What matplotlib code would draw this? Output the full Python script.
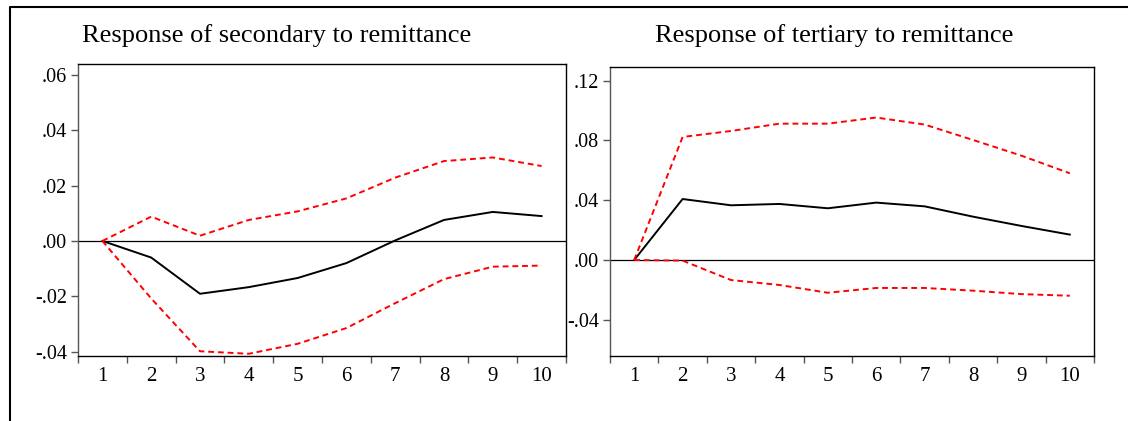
import numpy as np
from matplotlib import pyplot as plt
from matplotlib.lines import Line2D

periods = np.arange(1, 11)

sec_resp = [0.0, -0.0060, -0.0191, -0.0167, -0.0134, -0.0080, 0.0002, 0.0076, 0.0105, 0.0090]
sec_upper = [0.0, 0.0088, 0.0019, 0.0076, 0.0107, 0.0154, 0.0229, 0.0289, 0.0302, 0.0271]
sec_lower = [0.0, -0.0208, -0.0399, -0.0408, -0.0372, -0.0315, -0.0225, -0.0138, -0.0093, -0.0089]

ter_resp = [0.0, 0.0408, 0.0366, 0.0375, 0.0346, 0.0384, 0.0359, 0.0290, 0.0228, 0.0170]
ter_upper = [0.0, 0.0823, 0.0863, 0.0912, 0.0912, 0.0953, 0.0906, 0.0803, 0.0698, 0.0580]
ter_lower = [0.0, -0.0004, -0.0134, -0.0167, -0.0219, -0.0187, -0.0187, -0.0205, -0.0228, -0.0239]

sec_ticks = [-0.04, -0.02, 0.00, 0.02, 0.04, 0.06]
sec_ticklabels = ['-.04', '-.02', '.00', '.02', '.04', '.06']
ter_ticks = [-0.04, 0.00, 0.04, 0.08, 0.12]
ter_ticklabels = ['-.04', '.00', '.04', '.08', '.12']

plt.rcParams['font.family'] = ['Liberation Serif', 'DejaVu Serif']


def draw_panel(ax, resp, upper, lower, ticks, ticklabels, ylim):
    ax.axhline(0, color='black', lw=0.9)
    ax.plot(periods, resp, color='black', lw=1.4)
    ax.plot(periods, upper, color='red', lw=1.4, linestyle=(0, (3, 2)))
    ax.plot(periods, lower, color='red', lw=1.4, linestyle=(0, (3, 2)))
    ax.set_xlim(0.5, 10.5)
    ax.set_ylim(*ylim)
    ax.set_yticks(ticks)
    ax.set_yticklabels(ticklabels)
    # tick marks sit between periods, labels at the periods
    ax.set_xticks(np.arange(0.5, 11, 1))
    ax.set_xticklabels([])
    ax.set_xticks(periods, minor=True)
    ax.set_xticklabels([str(p) for p in periods], minor=True)
    ax.tick_params(axis='x', which='major', length=5, width=1, color='#555555', direction='out')
    ax.tick_params(axis='x', which='minor', length=0, labelsize=15, pad=8)
    ax.tick_params(axis='y', length=5, width=1, color='#555555', labelsize=14.5, pad=3)
    for side in ['left', 'bottom', 'top', 'right']:
        ax.spines[side].set_linewidth(1.0)
    ax.spines['left'].set_color('#555555')


fig = plt.figure(figsize=(11.28, 4.21), dpi=100)

ax1 = fig.add_axes([78 / 1128, 1 - 355.7 / 421, 488 / 1128, 291.4 / 421])
draw_panel(ax1, sec_resp, sec_upper, sec_lower, sec_ticks, sec_ticklabels, (-0.0415, 0.0639))

ax2 = fig.add_axes([610 / 1128, 1 - 356 / 421, 484 / 1128, 289.3 / 421])
draw_panel(ax2, ter_resp, ter_upper, ter_lower, ter_ticks, ter_ticklabels, (-0.0642, 0.1293))

fig.text(277 / 1128, 1 - 36 / 421, 'Response of secondary to remittance',
         ha='center', va='center', fontsize=19)
fig.text(834 / 1128, 1 - 36 / 421, 'Response of tertiary to remittance',
         ha='center', va='center', fontsize=19)

# outer frame (left and top only)
fx = 9.5 / 1128
fy = 1 - 6.5 / 421
fig.add_artist(Line2D([fx, fx, 1.0], [0.0, fy, fy], color='black', lw=1.5,
                      transform=fig.transFigure))

fig.savefig('out.png', dpi=100)
